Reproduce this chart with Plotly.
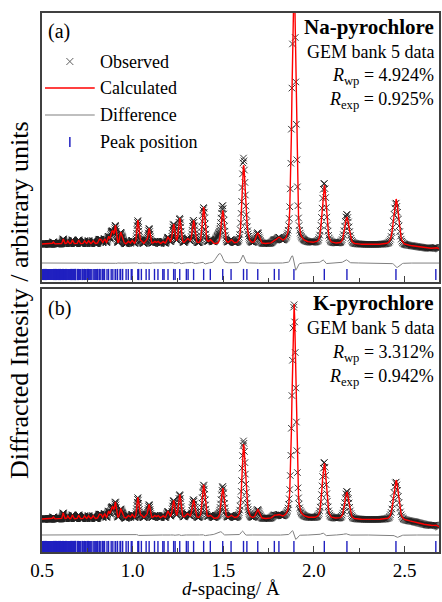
import numpy as np
import plotly.graph_objects as go

# ---------------- data ----------------
# reflection (tick-mark) positions, d-spacing in Angstrom
reflection_d = [
    2.6725, 2.4525, 2.1821, 2.0573, 1.8897, 1.8069, 1.7817, 1.6902, 1.6302, 1.6116,
    1.5430, 1.4969, 1.4285, 1.3917, 1.3363, 1.3060, 1.2963, 1.2598, 1.2344, 1.2262,
    1.1952, 1.1734, 1.1664, 1.1396, 1.1206, 1.0910, 1.0744, 1.0482, 1.0334, 1.0286,
    0.9968, 0.9925, 0.9759, 0.9639, 0.9449, 0.9340, 0.9305, 0.9167, 0.9067, 0.9035,
    0.8908, 0.8817, 0.8671, 0.8586, 0.8451, 0.8373, 0.8347, 0.8247, 0.8175, 0.8151,
    0.8058, 0.7990, 0.7968, 0.7881, 0.7817, 0.7715, 0.7655, 0.7636, 0.7559, 0.7503,
    0.7485, 0.7412, 0.7359, 0.7342, 0.7274, 0.7224, 0.7143, 0.7095, 0.7080, 0.7018,
    0.6973, 0.6959, 0.6858, 0.6844, 0.6788, 0.6747, 0.6681, 0.6642, 0.6630, 0.6579,
    0.6542, 0.6530, 0.6482, 0.6446, 0.6435, 0.6388, 0.6355, 0.6299, 0.6267, 0.6256,
    0.6213, 0.6182, 0.6172, 0.6131, 0.6101, 0.6091, 0.6052, 0.6023, 0.5976, 0.5948,
    0.5939, 0.5903, 0.5876, 0.5867, 0.5832, 0.5806, 0.5764, 0.5739, 0.5698, 0.5674,
    0.5666, 0.5634, 0.5611, 0.5603, 0.5550, 0.5543, 0.5513, 0.5491, 0.5455, 0.5434,
    0.5427, 0.5399, 0.5379, 0.5372, 0.5345, 0.5325, 0.5318, 0.5292, 0.5273, 0.5241,
    0.5222, 0.5216, 0.5191, 0.5173, 0.5167, 0.5143, 0.5125, 0.5120, 0.5096, 0.5079,
    0.5034, 0.5028, 0.5006,
]

# visible peaks (d-spacing) and their heights above background
peak_d = [0.562, 0.617, 0.642, 0.668, 0.702, 0.734, 0.757, 0.782, 0.815, 0.825,
          0.845, 0.867, 0.882, 0.891, 0.905, 0.934, 0.945, 0.976, 0.997, 1.029,
          1.048, 1.074, 1.091, 1.121, 1.140, 1.166, 1.195, 1.226, 1.260, 1.296,
          1.306, 1.336, 1.392, 1.429, 1.497, 1.543, 1.612, 1.630, 1.690, 1.782,
          1.807, 1.890, 2.057, 2.182, 2.453, 2.673]

na_calc_h = [2, 5, 3, 4, 4, 3, 3, 3, 4, 4,
             5, 7, 9, 10, 18, 11, 5, 3, 4, 24,
             3, 3, 16, 3, 3, 3, 7, 20, 26, 3,
             4, 24, 37, 4, 34, 4, 78, 8, 11, 3,
             5, 270, 59, 27, 46, 2]
na_obs_h = [2, 5, 3, 4, 4, 3, 3, 3, 4, 4,
            5, 7, 9, 10, 18, 11, 5, 3, 4, 24,
            3, 3, 16, 3, 3, 3, 7, 20, 26, 3,
            4, 24, 37, 4, 34, 4, 85, 8, 11, 3,
            5, 270, 61, 30, 42, 2]
na_bg_d = [0.5, 0.8, 1.0, 1.5, 2.0, 2.45, 2.55, 2.69]
na_bg_i = [6, 6, 5, 5, 5.5, 5, 3.5, 0]
na_extra_d = [1.478]      # unfitted broad feature in observed data
na_extra_h = [9]

k_calc_h = [2, 6, 3, 4, 4, 3, 3, 3, 4, 4,
            5, 7, 8, 9, 16, 9, 4, 3, 4, 21,
            3, 3, 14, 3, 3, 3, 7, 18, 24, 3,
            3, 19, 34, 3, 31, 3, 74, 7, 9, 3,
            3, 216, 56, 27, 40, 2]
k_obs_h = [2, 6, 3, 4, 4, 3, 3, 3, 4, 4,
           5, 7, 8, 9, 16, 9, 4, 3, 4, 21,
           3, 3, 14, 3, 3, 3, 7, 18, 24, 3,
           3, 19, 34, 3, 31, 3, 77, 7, 9, 3,
           3, 216, 57, 28, 38, 2]
k_bg_d = [0.5, 1.0, 1.5, 2.0, 2.45, 2.55, 2.69]
k_bg_i = [6, 6, 5.5, 5.5, 5, 3, -3]
k_extra_d = [1.478]
k_extra_h = [3]

panel_names = ["Na-pyrochlore", "K-pyrochlore"]
r_wp = ["4.924%", "3.312%"]
r_exp = ["0.925%", "0.942%"]
legend_labels = ["Observed", "Calculated", "Difference", "Peak position"]
x_ticks = [0.5, 1.0, 1.5, 2.0, 2.5]

# ---------------- profile rendering ----------------
REL_FWHM = 0.013
ETA = 0.35
d_grid = 0.5 * 1.0016 ** np.arange(0, 1060)
d_grid = d_grid[d_grid <= 2.695]


def pv(x, c, h):
    fw = REL_FWHM * c
    t = (x - c) / fw
    return h * (ETA / (1 + 4 * t * t) + (1 - ETA) * np.exp(-4 * np.log(2) * t * t))


def build(bg_d, bg_i, calc_h, obs_h, extra_d, extra_h, shift, diff_off):
    bg = np.interp(d_grid, bg_d, bg_i)
    calc = bg.copy()
    obs = bg.copy()
    for c, hc, ho in zip(peak_d, calc_h, obs_h):
        calc += pv(d_grid, c, hc)
        obs += pv(d_grid, c * (1 + shift), ho)
    for c, h in zip(extra_d, extra_h):
        obs += h * np.exp(-4 * np.log(2) * ((d_grid - c) / 0.04) ** 2)
    diff = obs - calc + diff_off
    return obs, calc, diff


na_obs, na_calc, na_diff = build(na_bg_d, na_bg_i, na_calc_h, na_obs_h,
                                 na_extra_d, na_extra_h, -0.00026, -13)
k_obs, k_calc, k_diff = build(k_bg_d, k_bg_i, k_calc_h, k_obs_h,
                              k_extra_d, k_extra_h, -0.0002, -10)

FONT = "Liberation Serif, Times New Roman, serif"
RED = "#ff0000"
GREY = "#808080"
BLUE = "#2020c0"
OBS_C = "#202020"
AX_C = "#404040"

fig = go.Figure()
panels = [
    (na_obs, na_calc, na_diff, -24.5, "x", "y"),
    (k_obs, k_calc, k_diff, -21.5, "x2", "y2"),
]
for obs, calc, diff, tick_y, xa, ya in panels:
    fig.add_trace(go.Scatter(
        x=d_grid, y=obs, mode="markers", xaxis=xa, yaxis=ya, showlegend=False,
        marker=dict(symbol="x-thin", size=6.5, color=OBS_C,
                    line=dict(width=0.9, color=OBS_C))))
    fig.add_trace(go.Scatter(
        x=d_grid, y=calc, mode="lines", xaxis=xa, yaxis=ya, showlegend=False,
        line=dict(color=RED, width=1.4)))
    fig.add_trace(go.Scatter(
        x=d_grid, y=diff, mode="lines", xaxis=xa, yaxis=ya, showlegend=False,
        line=dict(color=GREY, width=1)))
    fig.add_trace(go.Scatter(
        x=reflection_d, y=[tick_y] * len(reflection_d), mode="markers",
        xaxis=xa, yaxis=ya, showlegend=False,
        marker=dict(symbol="line-ns", size=8, color=BLUE,
                    line=dict(width=1.4, color=BLUE))))

L, R, T, B = 42, 1, 13, 50
W, H = 442, 602
PW, PH = W - L - R, H - T - B


def px(x):
    return (x - L) / PW


def py(y):
    return (H - B - y) / PH


xcommon = dict(range=[0.5, 2.69], tick0=0.5, dtick=0.5, ticks="inside", ticklen=6,
               tickwidth=1.3, tickcolor=AX_C, showline=True, mirror=True,
               linecolor=AX_C, linewidth=1.5, showgrid=False, zeroline=False,
               minor=dict(dtick=0.25, ticks="inside", ticklen=4, tickwidth=1.3,
                          tickcolor=AX_C))
ycommon = dict(showticklabels=False, ticks="", showline=True, mirror=True,
               linecolor=AX_C, linewidth=1.5, showgrid=False, zeroline=False)

fig.update_layout(
    width=W, height=H, margin=dict(l=L, r=R, t=T, b=B),
    paper_bgcolor="white", plot_bgcolor="white",
    font=dict(family=FONT, size=18, color="black"),
    xaxis=dict(anchor="y", showticklabels=False, **xcommon),
    xaxis2=dict(anchor="y2", showticklabels=True, tickvals=x_ticks,
                ticktext=[f"{v:.1f}" for v in x_ticks],
                tickfont=dict(family=FONT, size=19, color="black"),
                ticklabelstandoff=0, **xcommon),
    yaxis=dict(domain=[py(282), 1], anchor="x", range=[-32, 237], **ycommon),
    yaxis2=dict(domain=[0, py(289)], anchor="x2", range=[-27, 236], **ycommon),
)

ann = []


def text(x, y, s, size=18, xanchor="left", angle=0, yanchor="middle"):
    ann.append(dict(x=px(x), y=py(y), xref="paper", yref="paper", text=s,
                    showarrow=False, xanchor=xanchor, yanchor=yanchor,
                    textangle=angle, font=dict(family=FONT, size=size, color="black")))


# panel labels and right-hand info text
for i, top in enumerate([13, 289]):
    text(46, top + 19, "(a)" if i == 0 else "(b)", size=20)
    text(438, top + 14, f"<b>{panel_names[i]}</b>", size=21, xanchor="right")
    text(438, top + 39, "GEM bank 5 data", size=18, xanchor="right")
    text(438, top + 64, f"<i>R</i><sub>wp</sub> = {r_wp[i]}", size=18, xanchor="right")
    text(438, top + 88, f"<i>R</i><sub>exp</sub> = {r_exp[i]}", size=18, xanchor="right")

# legend
leg_y = [62, 88, 115, 142]
for lab, yy in zip(legend_labels, leg_y):
    text(98, yy, lab, size=18)

shapes = []
def seg(x0, y0, x1, y1, color, width):
    shapes.append(dict(type="line", xref="paper", yref="paper",
                       x0=px(x0), y0=py(y0), x1=px(x1), y1=py(y1),
                       line=dict(color=color, width=width)))

seg(66.5, 58, 73.5, 65, "#606060", 1)
seg(66.5, 65, 73.5, 58, "#606060", 1)
seg(45, 88, 95, 88, RED, 1.5)
seg(45, 115, 95, 115, GREY, 1.2)
seg(70, 137, 70, 147, BLUE, 1.5)

# axis titles
text(232, 601, "<i>d</i>-spacing/ Å", size=19, xanchor="center", yanchor="bottom")
text(19, 300, "Diffracted Intesity / arbitrary units", size=26, xanchor="center", angle=-90)

fig.update_layout(annotations=ann, shapes=shapes)
fig.write_html("out.html", config={"displayModeBar": False},
               post_script="document.body.style.margin='0';document.body.style.overflow='hidden';")
